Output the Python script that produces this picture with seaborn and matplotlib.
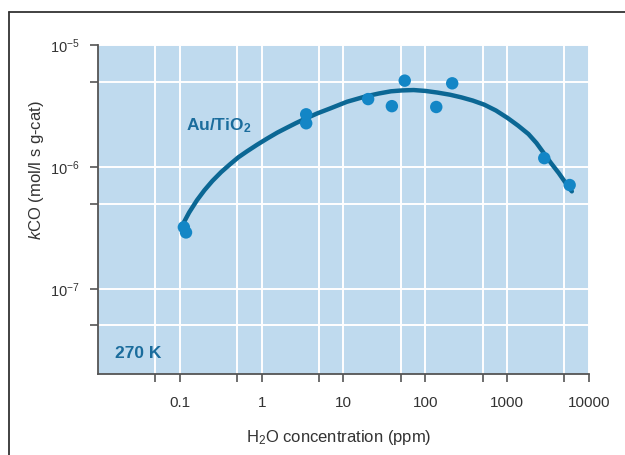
import numpy as np
import pandas as pd
import matplotlib
matplotlib.use("Agg")
import matplotlib.pyplot as plt
import matplotlib.ticker as mticker
from matplotlib.lines import Line2D
import seaborn as sns

# measured rate constants (Au/TiO2, 270 K)
h2o_ppm = [0.112, 0.119, 3.5, 3.5, 20, 39, 56, 136, 213, 2840, 5800]
k_co = [3.2e-7, 2.9e-7, 2.7e-6, 2.28e-6, 3.6e-6, 3.15e-6, 5.1e-6, 3.1e-6, 4.85e-6, 1.18e-6, 7.1e-7]

# fitted curve
fit_ppm = [0.109, 0.13, 0.162, 0.2, 0.25, 0.32, 0.41, 0.52, 0.66, 0.88, 1.17, 1.55,
           2.04, 2.6, 3.3, 4.8, 6.9, 11, 19, 27, 38, 52, 72, 100,
           141, 200, 275, 380, 525, 730, 1020, 1360, 1820, 2280, 2820, 3450, 4270, 5100, 6170]
fit_k = [3.39e-7, 4.23e-7, 5.33e-7, 6.44e-7, 7.67e-7, 9.07e-7, 1.05e-6, 1.2e-6, 1.34e-6, 1.52e-6,
         1.71e-6, 1.91e-6, 2.10e-6, 2.28e-6, 2.46e-6, 2.75e-6, 3.02e-6, 3.42e-6, 3.80e-6,
         4.0e-6, 4.17e-6, 4.24e-6, 4.27e-6, 4.2e-6, 4.07e-6, 3.91e-6, 3.72e-6, 3.5e-6,
         3.24e-6, 2.9e-6, 2.51e-6, 2.18e-6, 1.86e-6, 1.57e-6, 1.29e-6, 1.07e-6, 8.9e-7,
         7.5e-7, 6.3e-7]

x_major = [0.1, 1, 10, 100, 1000, 10000]
x_labels = ["0.1", "1", "10", "100", "1000", "10000"]
x_minor = [0.05, 0.5, 5, 50, 500, 5000]
y_major = [1e-7, 1e-6, 1e-5]
y_labels = [r"$\mathregular{10^{-7}}$", r"$\mathregular{10^{-6}}$", r"$\mathregular{10^{-5}}$"]
y_minor = [5e-8, 5e-7, 5e-6]

sns.set_style("white")
plt.rcParams["font.family"] = ["Liberation Sans", "DejaVu Sans"]
plt.rcParams["mathtext.fontset"] = "custom"
plt.rcParams["mathtext.rm"] = "Liberation Sans"
plt.rcParams["mathtext.it"] = "Liberation Sans:italic"
plt.rcParams["mathtext.bf"] = "Liberation Sans:bold"

pts = pd.DataFrame({"ppm": h2o_ppm, "k": k_co})
fit = pd.DataFrame({"ppm": fit_ppm, "k": fit_k})

fig = plt.figure(figsize=(6.25, 4.55), dpi=100)
ax = fig.add_axes([98 / 625, 1 - 374 / 455, 491 / 625, 329 / 455])
ax.set_facecolor("#bfdaee")

sns.lineplot(data=fit, x="ppm", y="k", ax=ax, color="#0b6794", lw=3.2,
             sort=False, estimator=None, zorder=3)
sns.scatterplot(data=pts, x="ppm", y="k", ax=ax, color="#1386c6", s=80,
                edgecolor="none", zorder=4)

ax.set_xscale("log")
ax.set_yscale("log")
ax.set_xlim(0.01, 10000)
ax.set_ylim(2e-8, 1e-5)

ax.xaxis.set_major_locator(mticker.FixedLocator(x_major))
ax.xaxis.set_minor_locator(mticker.FixedLocator(x_minor))
ax.set_xticklabels(x_labels)
ax.xaxis.set_minor_formatter(mticker.NullFormatter())
ax.yaxis.set_major_locator(mticker.FixedLocator(y_major))
ax.yaxis.set_minor_locator(mticker.FixedLocator(y_minor))
ax.set_yticklabels(y_labels)
ax.yaxis.set_minor_formatter(mticker.NullFormatter())

ax.grid(True, which="both", color="white", lw=1.4)
ax.set_axisbelow(True)
for side in ["top", "right"]:
    ax.spines[side].set_visible(False)
for side in ["left", "bottom"]:
    ax.spines[side].set_color("#555555")
    ax.spines[side].set_linewidth(1.3)

ax.tick_params(which="both", direction="out", length=6, width=1.2, color="#555555",
               labelsize=11, labelcolor="#333333", bottom=True, left=True)
ax.tick_params(axis="x", which="both", pad=10)
ax.tick_params(axis="y", which="both", pad=7, labelsize=10.5)

ax.set_xlabel(r"H$_2$O concentration (ppm)", fontsize=12, color="#333333")
ax.set_ylabel(r"$\mathit{k}$CO (mol/l s g-cat)", fontsize=12, color="#333333")
ax.xaxis.set_label_coords(0.49, -0.165)
ax.yaxis.set_label_coords(-0.105, 0.62)

ax.text(0.18, 0.74, r"$\mathbf{Au/TiO_2}$", transform=ax.transAxes,
        fontsize=12.5, color="#1a6c9c")
ax.text(0.035, 0.05, "270 K", transform=ax.transAxes, fontsize=12.5,
        fontweight="bold", color="#1a6c9c")

# outer frame (top and left edges)
fig.add_artist(Line2D([9 / 625, 9 / 625], [1 - 12 / 455, 0], transform=fig.transFigure,
                      color="#333333", lw=1.3))
fig.add_artist(Line2D([9 / 625, 1], [1 - 12 / 455, 1 - 12 / 455], transform=fig.transFigure,
                      color="#333333", lw=1.3))

fig.savefig("out.png", dpi=100)
